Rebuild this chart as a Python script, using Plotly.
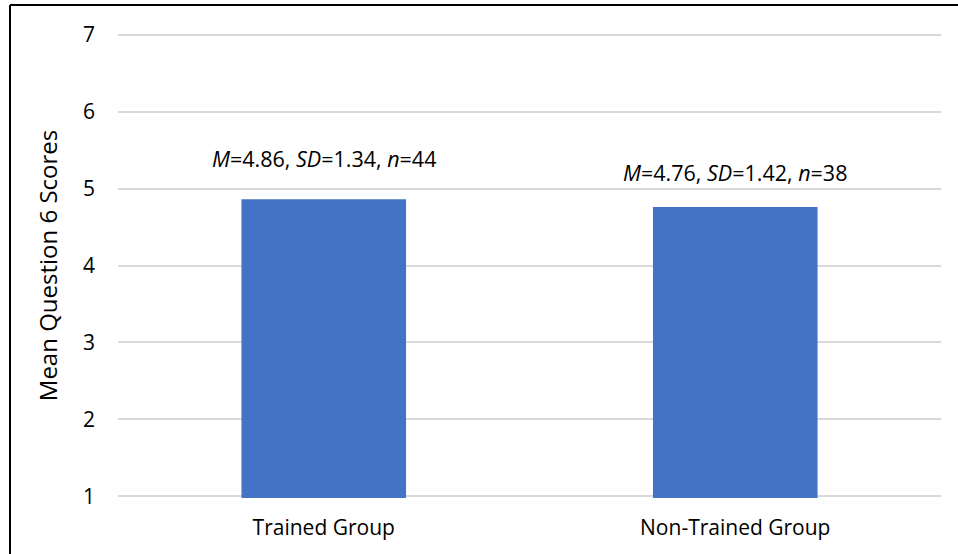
import plotly.graph_objects as go

# Survey results: mean Question 6 scores by group
groups = ["Trained Group", "Non-Trained Group"]
means = [4.86, 4.76]
sds = [1.34, 1.42]
ns = [44, 38]
y_ticks = [1, 2, 3, 4, 5, 6, 7]

FONT = "Open Sans"
W, H = 958, 554
ML, MR, MT, MB = 118, 17, 33, 56

# vertical pixel gap between each bar top and its statistics label
label_shift = [24, 18]

fig = go.Figure(
    go.Bar(
        x=groups,
        y=means,
        marker=dict(color="#4472C4", line=dict(width=0)),
        hoverinfo="skip",
    )
)

for g, m, s, n, dy in zip(groups, means, sds, ns, label_shift):
    fig.add_annotation(
        x=g,
        y=m,
        yanchor="bottom",
        yshift=dy,
        showarrow=False,
        text=f"<i>M</i>={m:.2f}, <i>SD</i>={s:.2f}, <i>n</i>={n}",
        font=dict(family=FONT, size=21.5, color="#000000"),
    )

# frame lines along the left and top edges
pw = W - ML - MR
ph = H - MT - MB
x_left = (10 - ML) / pw
y_top = (H - MB - 5) / ph
fig.add_shape(type="line", xref="paper", yref="paper",
              x0=x_left, x1=(W + 5 - ML) / pw, y0=y_top, y1=y_top,
              line=dict(color="#000000", width=2))
fig.add_shape(type="line", xref="paper", yref="paper",
              x0=x_left, x1=x_left, y0=y_top, y1=(-MB - 5) / ph,
              line=dict(color="#000000", width=2))

fig.update_layout(
    width=W,
    height=H,
    margin=dict(l=ML, r=MR, t=MT, b=MB),
    paper_bgcolor="#FFFFFF",
    plot_bgcolor="#FFFFFF",
    bargap=0.6,
    showlegend=False,
    font=dict(family=FONT, color="#000000"),
    xaxis=dict(
        showline=False,
        showgrid=False,
        ticks="",
        tickfont=dict(family=FONT, size=21, color="#000000"),
        ticklabelstandoff=15,
    ),
    yaxis=dict(
        range=[0.98, 7.02],
        tickvals=y_ticks,
        showgrid=True,
        gridcolor="#D9D9D9",
        gridwidth=1.5,
        zeroline=False,
        showline=False,
        ticks="",
        tickfont=dict(family=FONT, size=21, color="#000000"),
        ticklabelstandoff=22,
        title=dict(text="Mean Question 6 Scores",
                   font=dict(family=FONT, size=24, color="#000000"),
                   standoff=18),
    ),
)

fig.write_html("out.html")
